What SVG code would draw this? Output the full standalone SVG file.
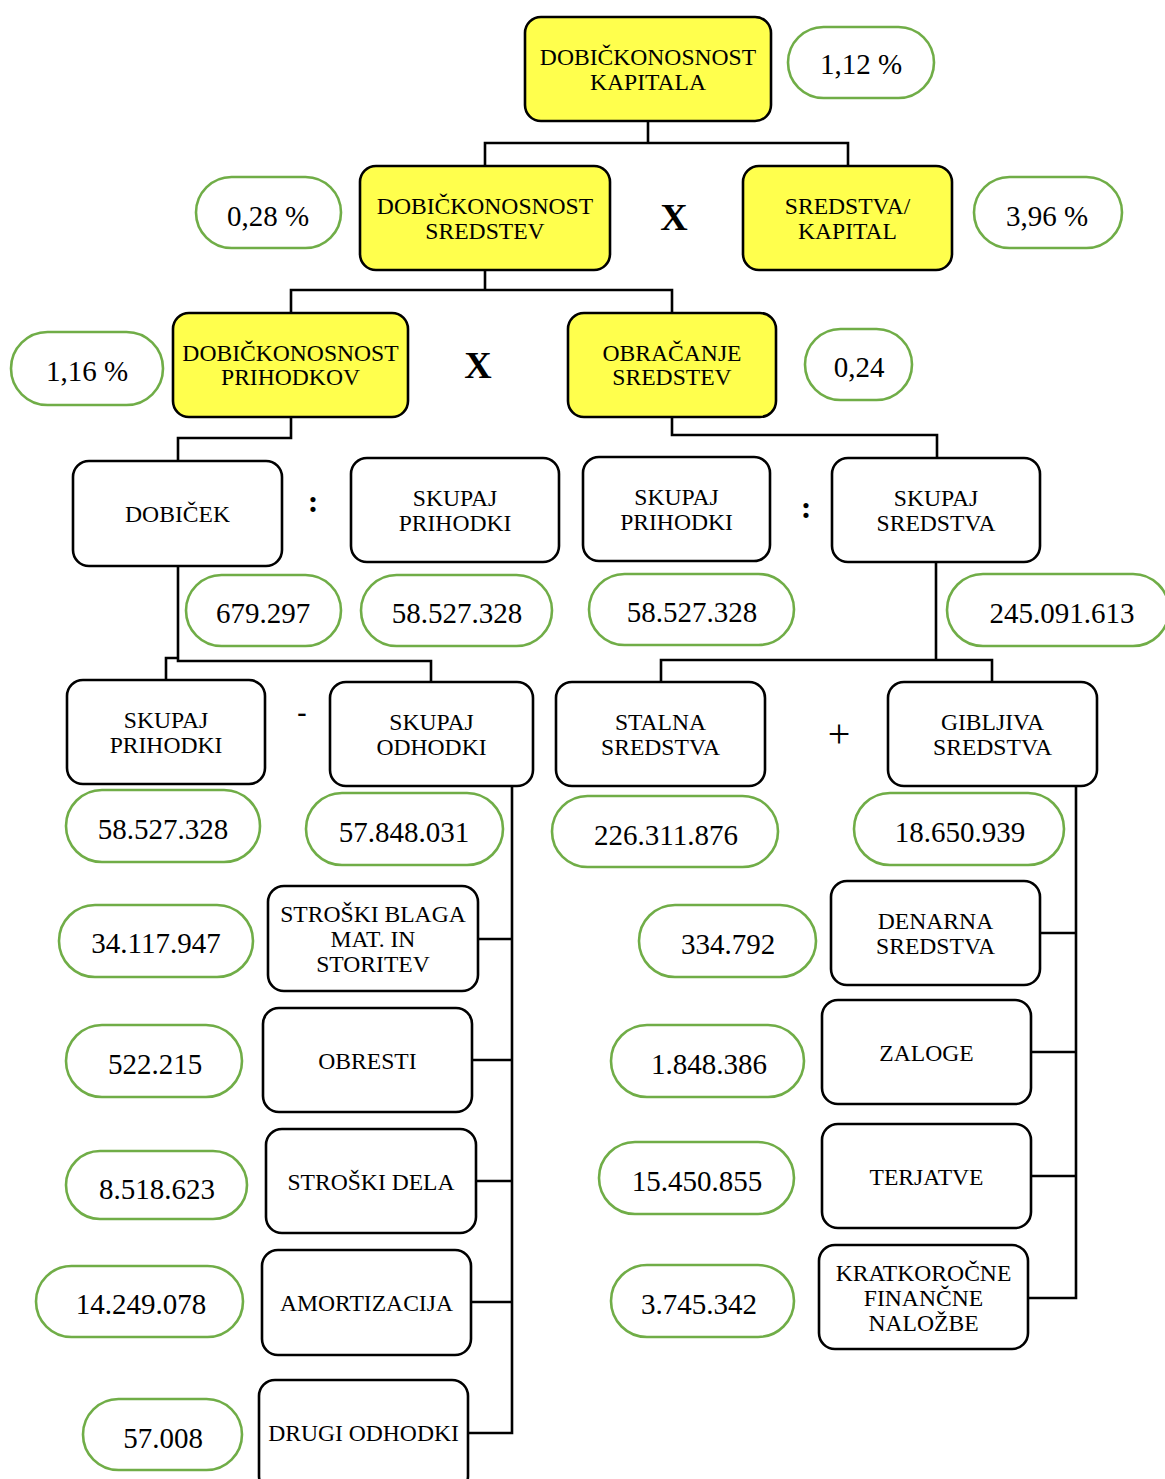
<svg xmlns="http://www.w3.org/2000/svg" width="1165" height="1479" viewBox="0 0 1165 1479">
<style>
.box{fill:#fff;stroke:#000;stroke-width:2.6}
.yel{fill:#ffff4d}
.pill{fill:#fff;stroke:#70ad47;stroke-width:2.6}
.lbl{font-family:"Liberation Serif","Times New Roman",serif;font-size:23.6px;text-anchor:middle;fill:#000}
.num{font-family:"Liberation Serif","Times New Roman",serif;font-size:29px;text-anchor:middle;fill:#000}
.op{font-family:"Liberation Serif","Times New Roman",serif;text-anchor:middle;fill:#000}
.con{fill:none;stroke:#000;stroke-width:2.6}
</style>
<rect width="1165" height="1479" fill="#fff"/>
<g id="connectors">
<polyline class="con" points="648,121 648,143"/>
<polyline class="con" points="485,166 485,143 848,143 848,166"/>
<polyline class="con" points="485,270 485,290"/>
<polyline class="con" points="291,313 291,290 672,290 672,313"/>
<polyline class="con" points="291,417 291,438 178,438 178,461"/>
<polyline class="con" points="672,417 672,435 937,435 937,458"/>
<polyline class="con" points="178,566 178,661 431,661 431,682"/>
<polyline class="con" points="178,658 166,658 166,680"/>
<polyline class="con" points="936,562 936,660"/>
<polyline class="con" points="661,682 661,660 992,660 992,682"/>
<polyline class="con" points="512,786 512,1433 468,1433"/>
<polyline class="con" points="478,939 512,939"/>
<polyline class="con" points="472,1060 512,1060"/>
<polyline class="con" points="476,1181 512,1181"/>
<polyline class="con" points="471,1302 512,1302"/>
<polyline class="con" points="1076,786 1076,1298 1028,1298"/>
<polyline class="con" points="1040,933 1076,933"/>
<polyline class="con" points="1031,1052 1076,1052"/>
<polyline class="con" points="1031,1176 1076,1176"/>
</g>
<g id="n1"><rect class="box yel" x="525" y="17" width="246" height="104" rx="16"/><text class="lbl" x="648" y="65">DOBIČKONOSNOST</text><text class="lbl" x="648" y="90">KAPITALA</text></g>
<g id="n2"><rect class="box yel" x="360" y="166" width="250" height="104" rx="16"/><text class="lbl" x="485" y="214">DOBIČKONOSNOST</text><text class="lbl" x="485" y="239">SREDSTEV</text></g>
<g id="n3"><rect class="box yel" x="743" y="166" width="209" height="104" rx="16"/><text class="lbl" x="847.5" y="214">SREDSTVA/</text><text class="lbl" x="847.5" y="239">KAPITAL</text></g>
<g id="n4"><rect class="box yel" x="173" y="313" width="235" height="104" rx="16"/><text class="lbl" x="290.5" y="361">DOBIČKONOSNOST</text><text class="lbl" x="290.5" y="385">PRIHODKOV</text></g>
<g id="n5"><rect class="box yel" x="568" y="313" width="208" height="104" rx="16"/><text class="lbl" x="672" y="361">OBRAČANJE</text><text class="lbl" x="672" y="385">SREDSTEV</text></g>
<g id="n6"><rect class="box" x="73" y="461" width="209" height="105" rx="16"/><text class="lbl" x="177.5" y="522">DOBIČEK</text></g>
<g id="n7"><rect class="box" x="351" y="458" width="208" height="104" rx="16"/><text class="lbl" x="455" y="506">SKUPAJ</text><text class="lbl" x="455" y="531">PRIHODKI</text></g>
<g id="n8"><rect class="box" x="583" y="457" width="187" height="104" rx="16"/><text class="lbl" x="676.5" y="505">SKUPAJ</text><text class="lbl" x="676.5" y="530">PRIHODKI</text></g>
<g id="n9"><rect class="box" x="832" y="458" width="208" height="104" rx="16"/><text class="lbl" x="936" y="506">SKUPAJ</text><text class="lbl" x="936" y="531">SREDSTVA</text></g>
<g id="n10"><rect class="box" x="67" y="680" width="198" height="104" rx="16"/><text class="lbl" x="166" y="728">SKUPAJ</text><text class="lbl" x="166" y="753">PRIHODKI</text></g>
<g id="n11"><rect class="box" x="330" y="682" width="203" height="104" rx="16"/><text class="lbl" x="431.5" y="730">SKUPAJ</text><text class="lbl" x="431.5" y="755">ODHODKI</text></g>
<g id="n12"><rect class="box" x="556" y="682" width="209" height="104" rx="16"/><text class="lbl" x="660.5" y="730">STALNA</text><text class="lbl" x="660.5" y="755">SREDSTVA</text></g>
<g id="n13"><rect class="box" x="888" y="682" width="209" height="104" rx="16"/><text class="lbl" x="992.5" y="730">GIBLJIVA</text><text class="lbl" x="992.5" y="755">SREDSTVA</text></g>
<g id="n14"><rect class="box" x="268" y="886" width="210" height="105" rx="16"/><text class="lbl" x="373" y="922">STROŠKI BLAGA</text><text class="lbl" x="373" y="947">MAT. IN</text><text class="lbl" x="373" y="972">STORITEV</text></g>
<g id="n15"><rect class="box" x="263" y="1008" width="209" height="104" rx="16"/><text class="lbl" x="367.5" y="1069">OBRESTI</text></g>
<g id="n16"><rect class="box" x="266" y="1129" width="210" height="104" rx="16"/><text class="lbl" x="371" y="1190">STROŠKI DELA</text></g>
<g id="n17"><rect class="box" x="262" y="1250" width="209" height="105" rx="16"/><text class="lbl" x="366.5" y="1311">AMORTIZACIJA</text></g>
<g id="n18"><rect class="box" x="259" y="1380" width="209" height="112" rx="16"/><text class="lbl" x="363.5" y="1441">DRUGI ODHODKI</text></g>
<g id="n19"><rect class="box" x="831" y="881" width="209" height="104" rx="16"/><text class="lbl" x="935.5" y="929">DENARNA</text><text class="lbl" x="935.5" y="954">SREDSTVA</text></g>
<g id="n20"><rect class="box" x="822" y="1000" width="209" height="104" rx="16"/><text class="lbl" x="926.5" y="1061">ZALOGE</text></g>
<g id="n21"><rect class="box" x="822" y="1124" width="209" height="104" rx="16"/><text class="lbl" x="926.5" y="1185">TERJATVE</text></g>
<g id="n22"><rect class="box" x="819" y="1245" width="209" height="104" rx="16"/><text class="lbl" x="923.5" y="1281">KRATKOROČNE</text><text class="lbl" x="923.5" y="1306">FINANČNE</text><text class="lbl" x="923.5" y="1331">NALOŽBE</text></g>
<g id="v1"><rect class="pill" x="788" y="27" width="146" height="71" rx="35.5"/><text class="num" x="861" y="74">1,12 %</text></g>
<g id="v2"><rect class="pill" x="196" y="177" width="145" height="71" rx="35.5"/><text class="num" x="268" y="226">0,28 %</text></g>
<g id="v3"><rect class="pill" x="974" y="177" width="148" height="71" rx="35.5"/><text class="num" x="1047" y="226">3,96 %</text></g>
<g id="v4"><rect class="pill" x="11" y="332" width="152" height="73" rx="36.5"/><text class="num" x="87" y="381">1,16 %</text></g>
<g id="v5"><rect class="pill" x="805" y="329" width="107" height="71" rx="35.5"/><text class="num" x="859" y="377">0,24</text></g>
<g id="v6"><rect class="pill" x="186" y="575" width="155" height="71" rx="35.5"/><text class="num" x="263" y="623">679.297</text></g>
<g id="v7"><rect class="pill" x="361" y="575" width="191" height="71" rx="35.5"/><text class="num" x="457" y="623">58.527.328</text></g>
<g id="v8"><rect class="pill" x="589" y="574" width="205" height="71" rx="35.5"/><text class="num" x="692" y="622">58.527.328</text></g>
<g id="v9"><rect class="pill" x="947" y="574" width="222" height="72" rx="36"/><text class="num" x="1062" y="623">245.091.613</text></g>
<g id="v10"><rect class="pill" x="66" y="790" width="194" height="72" rx="36"/><text class="num" x="163" y="839">58.527.328</text></g>
<g id="v11"><rect class="pill" x="306" y="793" width="197" height="72" rx="36"/><text class="num" x="404" y="842">57.848.031</text></g>
<g id="v12"><rect class="pill" x="552" y="796" width="226" height="71" rx="35.5"/><text class="num" x="666" y="845">226.311.876</text></g>
<g id="v13"><rect class="pill" x="854" y="793" width="210" height="72" rx="36"/><text class="num" x="960" y="842">18.650.939</text></g>
<g id="v14"><rect class="pill" x="59" y="905" width="194" height="72" rx="36"/><text class="num" x="156" y="953">34.117.947</text></g>
<g id="v15"><rect class="pill" x="66" y="1025" width="176" height="72" rx="36"/><text class="num" x="155" y="1074">522.215</text></g>
<g id="v16"><rect class="pill" x="66" y="1151" width="181" height="68" rx="34"/><text class="num" x="157" y="1199">8.518.623</text></g>
<g id="v17"><rect class="pill" x="36" y="1266" width="207" height="71" rx="35.5"/><text class="num" x="141" y="1314">14.249.078</text></g>
<g id="v18"><rect class="pill" x="83" y="1399" width="159" height="71" rx="35.5"/><text class="num" x="163" y="1448">57.008</text></g>
<g id="v19"><rect class="pill" x="639" y="905" width="177" height="72" rx="36"/><text class="num" x="728" y="954">334.792</text></g>
<g id="v20"><rect class="pill" x="611" y="1025" width="193" height="72" rx="36"/><text class="num" x="709" y="1074">1.848.386</text></g>
<g id="v21"><rect class="pill" x="599" y="1142" width="195" height="72" rx="36"/><text class="num" x="697" y="1191">15.450.855</text></g>
<g id="v22"><rect class="pill" x="611" y="1265" width="183" height="72" rx="36"/><text class="num" x="699" y="1314">3.745.342</text></g>
<g id="operators">
<text class="op" x="674" y="230" font-size="38" font-weight="bold">X</text>
<text class="op" x="478" y="378" font-size="38" font-weight="bold">X</text>
<text class="op" x="313" y="512" font-size="32" font-weight="bold">:</text>
<text class="op" x="806" y="518" font-size="32" font-weight="bold">:</text>
<text class="op" x="302" y="721" font-size="28" font-weight="bold">-</text>
<text class="op" x="839" y="747" font-size="40">+</text>
</g>
</svg>
